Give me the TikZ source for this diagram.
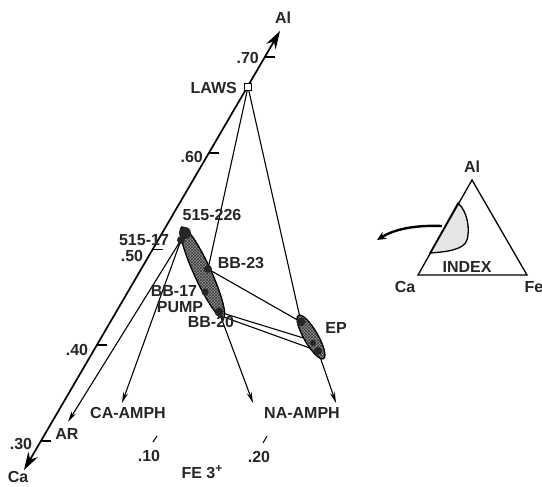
\documentclass[tikz,border=0pt]{standalone}
\usepackage{fontspec}
\setmainfont{Liberation Sans}
\usetikzlibrary{arrows.meta,shapes.geometric,patterns,calc}
\begin{document}
\begin{tikzpicture}[x=1pt,y=-1pt,
  lbl/.style={font=\fontsize{16}{18}\selectfont\bfseries, inner sep=0pt, text=black!85},
  axisline/.style={line width=1.7pt},
  tie/.style={line width=1.1pt},
  arr/.style={line width=1.1pt, -{Stealth[length=11pt,width=5pt]}},
  tick/.style={line width=1.3pt},
  dot/.style={circle, fill=black!85, inner sep=0pt},
  blob/.style={ellipse, draw, line width=1.3pt, preaction={fill=black!40}, pattern=crosshatch, pattern color=black!80, inner sep=0pt}
]
\useasboundingbox (0,0) rectangle (542,487);

% main axis
\coordinate (ca) at (24,470);
\coordinate (al) at (280,31);
\draw[axisline, {Stealth[length=18pt,width=11pt]}-{Stealth[length=18pt,width=11pt]}] (ca) -- (al);

% ticks
\coordinate (t70) at ($(ca)!0.941!(al)$);
\coordinate (t60) at ($(ca)!0.722!(al)$);
\coordinate (t50) at ($(ca)!0.503!(al)$);
\coordinate (t40) at ($(ca)!0.2846!(al)$);
\coordinate (t30) at ($(ca)!0.0658!(al)$);
\foreach \t in {t70,t60,t50,t40,t30} \draw[tick] (\t) -- ++(10,0);

% points
\coordinate (p226) at (185,233);
\coordinate (p17) at (181,240);
\coordinate (bb23) at (208,269);
\coordinate (bb17) at (205,292);
\coordinate (bb20) at (219,312);
\coordinate (ep1) at (301,322);
\coordinate (ep2) at (310,340);
\coordinate (ep3) at (318,351);
\coordinate (arT) at (68,422);
\coordinate (caT) at (122,403);
\coordinate (naT1) at (253,403);
\coordinate (naT2) at (336,403);

\node[draw, line width=1.1pt, fill=white, minimum size=7pt, inner sep=0pt] (laws) at (248,87) {};

% tie lines
\draw[tie] (laws) -- (bb23);
\draw[tie] (laws) -- (ep1);
\draw[tie] (bb23) -- (ep1);
\draw[tie] (bb20) -- (ep2);
\draw[tie] ($(bb20)+(2,4)$) -- (ep3);
\draw[arr] (p17) -- (arT);
\draw[arr] (p17) -- (caT);
\draw[arr] (bb20) -- (naT1);
\draw[arr] (ep3) -- (naT2);

% blobs
\node[blob, minimum width=100pt, minimum height=17pt, rotate=-65.4] (bigblob) at (202.5,272.5) {};
\node[blob, minimum width=50pt, minimum height=14pt, rotate=-59.9] (epblob) at (311,337) {};

\node[dot, minimum size=12pt] (d226) at (p226) {};
\node[dot, minimum size=8pt] (d17) at (p17) {};
\node[dot, minimum size=8pt] (d23) at (bb23) {};
\node[dot, minimum size=7pt] (d1717) at (bb17) {};
\node[dot, minimum size=9pt] (d20) at (bb20) {};
\node[dot, minimum size=9pt] (de1) at (ep1) {};
\node[dot, minimum size=6pt] (de2) at (313,343) {};
\node[dot, minimum size=8pt] (de3) at (ep3) {};

% labels
\node[lbl] (lal) at (283,18) {Al};
\node[lbl, anchor=east] (l70) at (259,58) {.70};
\node[lbl, anchor=east] (llaws) at (237,88) {LAWS};
\node[lbl, anchor=east] (l60) at (203,157) {.60};
\node[lbl] (l226) at (212,215) {515-226};
\node[lbl] (l17) at (144,240) {515-17};
\node[lbl] (l50) at (132,256) {.50};
\node[lbl] (lbb23) at (241,263) {BB-23};
\node[lbl] (lbb17) at (174,291) {BB-17};
\node[lbl] (lpump) at (180,307) {PUMP};
\node[lbl] (lbb20) at (211,322) {BB-20};
\node[lbl] (lep) at (336,328) {EP};
\node[lbl] (l40) at (77,350) {.40};
\node[lbl] (lar) at (67,434) {AR};
\node[lbl] (l30) at (21,444) {.30};
\node[lbl] (lca) at (18,477) {Ca};
\node[lbl] (lcaamph) at (128,413) {CA-AMPH};
\node[lbl] (lnaamph) at (302,413) {NA-AMPH};
\node[lbl] (l10) at (149,456) {.10};
\node[lbl] (l20) at (259,457) {.20};
\node[lbl] (lfe) at (202,472) {FE 3\raisebox{6pt}{\fontsize{12}{12}\selectfont +}};
\coordinate (k10) at (153,442);
\coordinate (k20) at (263,443);
\draw[tick, line width=1pt] (k10) -- ++(4,-6);
\draw[tick, line width=1pt] (k20) -- ++(4,-7);

% inset
\coordinate (ia) at (472,180);
\coordinate (ic) at (418,275);
\coordinate (if) at (527,275);
\filldraw[fill=gray!20, line width=1.3pt] (458,203) .. controls (468,212) and (470,230) .. (467,240) .. controls (464,250) and (445,252) .. (430,253) -- cycle;
\draw[line width=1.3pt, line join=miter] (ia) -- (ic) -- (if) -- cycle;
\coordinate (cs) at (442,226);
\coordinate (ce) at (377,240);
\draw[line width=2.4pt, -{Stealth[length=9pt,width=8pt]}] (cs) .. controls (415,225) and (395,229) .. (ce);
\node[lbl] (ial) at (472,167) {Al};
\node[lbl] (ica) at (405,287) {Ca};
\node[lbl] (ife) at (534,287) {Fe};
\node[lbl] (iindex) at (467,267) {INDEX};
\end{tikzpicture}
\end{document}
